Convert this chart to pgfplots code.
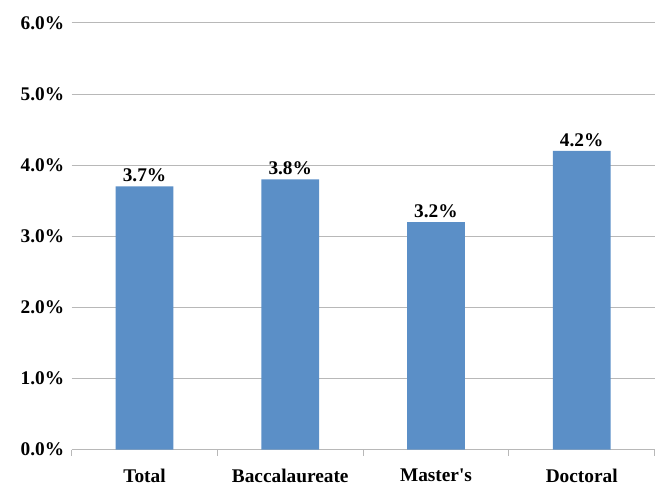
\documentclass[border=0pt]{standalone}
\usepackage{pgfplots}
\pgfplotsset{compat=1.18}
\usepackage{fontspec}
\setmainfont{Liberation Serif}
\definecolor{barblue}{HTML}{5B8FC7}
\definecolor{gridgray}{HTML}{B8B8B8}
\begin{document}
\begin{tikzpicture}
\begin{axis}[
  scale only axis,
  width=586bp, height=429bp,
  at={(0,0)}, anchor=south west,
  xmin=-0.5, xmax=3.5,
  ymin=0, ymax=6,
  ytick={0,1,2,3,4,5,6},
  yticklabel={\pgfmathprintnumber[fixed,fixed zerofill,precision=1]{\tick}\%},
  xtick={0,1,2,3},
  xticklabels={Total,Baccalaureate,Master\textquotesingle s,Doctoral},
  minor xtick={-0.5,0.5,1.5,2.5,3.5},
  major tick length=0pt,
  minor tick length=6bp,
  tick align=outside,
  xtick style={draw=none},
  ytick style={draw=none},
  minor x tick style={draw=gridgray, line width=0.8pt},
  ymajorgrids,
  grid style={gridgray, line width=0.8pt},
  axis x line*=bottom,
  axis y line*=left,
  x axis line style={gridgray, line width=0.8pt, -},
  y axis line style={draw=none},
  tick label style={font=\bfseries\fontsize{19.5}{23}\selectfont},
  /pgf/number format/assume math mode=true,
  yticklabel style={xshift=-4bp},
  xticklabel style={yshift=-16bp},
  nodes near coords={\pgfmathprintnumber[fixed,fixed zerofill,precision=1]{\pgfplotspointmeta}\%},
  nodes near coords style={font=\bfseries\fontsize{19.5}{23}\selectfont, text=black, yshift=1bp},
  clip=false,
]
\addplot[ybar, bar width=58bp, fill=barblue, draw=none] coordinates {(0,3.7) (1,3.8) (2,3.2) (3,4.2)};
\end{axis}
\path[use as bounding box] (-72bp,-38bp) rectangle (583bp,452bp);
\end{tikzpicture}
\end{document}
